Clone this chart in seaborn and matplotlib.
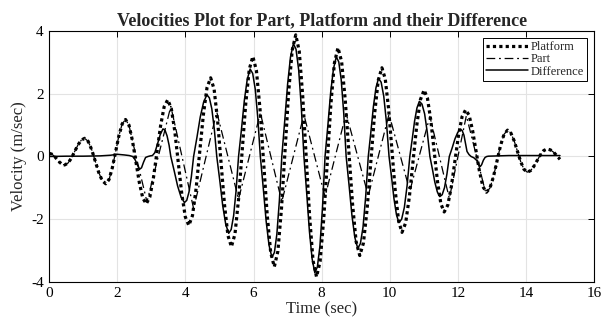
import matplotlib
matplotlib.use("Agg")
import matplotlib.pyplot as plt
import seaborn as sns
import pandas as pd

# ---- data ----
platform_t = [0.0, 0.075, 0.15, 0.225, 0.30, 0.375, 0.45, 0.548, 0.647, 0.745, 0.843, 0.942,
              1.04, 1.143, 1.247, 1.35, 1.453, 1.557, 1.66, 1.757, 1.853, 1.95, 2.047, 2.143,
              2.24, 2.342, 2.443, 2.545, 2.647, 2.748, 2.85, 2.955, 3.06, 3.165, 3.27, 3.375,
              3.48, 3.583, 3.687, 3.79, 3.893, 3.997, 4.10, 4.207, 4.313, 4.42, 4.527, 4.633,
              4.74, 4.842, 4.943, 5.045, 5.147, 5.248, 5.35, 5.455, 5.56, 5.665, 5.77, 5.875,
              5.98, 6.085, 6.19, 6.295, 6.40, 6.505, 6.61, 6.715, 6.82, 6.925, 7.03, 7.135,
              7.24, 7.342, 7.443, 7.545, 7.647, 7.748, 7.85, 7.955, 8.06, 8.165, 8.27, 8.375,
              8.48, 8.587, 8.693, 8.80, 8.907, 9.013, 9.12, 9.228, 9.337, 9.445, 9.553, 9.662,
              9.77, 9.868, 9.967, 10.065, 10.163, 10.262, 10.36, 10.468, 10.577, 10.685, 10.793, 10.902,
              11.01, 11.108, 11.207, 11.305, 11.403, 11.502, 11.60, 11.705, 11.81, 11.915, 12.02, 12.125,
              12.23, 12.332, 12.433, 12.535, 12.637, 12.738, 12.84, 12.943, 13.047, 13.15, 13.253, 13.357,
              13.46, 13.557, 13.653, 13.75, 13.847, 13.943, 14.04, 14.137, 14.233, 14.33, 14.427, 14.523,
              14.62, 14.72, 14.82, 14.91, 15.0]
platform_v = [0.10, 0.075, 0.01, -0.085, -0.18, -0.245, -0.27, -0.213, -0.058, 0.155, 0.368, 0.523,
              0.58, 0.483, 0.218, -0.145, -0.508, -0.773, -0.87, -0.733, -0.358, 0.155, 0.668, 1.043,
              1.18, 1.0, 0.508, -0.165, -0.838, -1.33, -1.51, -1.288, -0.68, 0.15, 0.98, 1.588,
              1.81, 1.541, 0.808, -0.195, -1.198, -1.931, -2.20, -1.884, -1.023, 0.155, 1.333, 2.194,
              2.51, 2.149, 1.163, -0.185, -1.533, -2.519, -2.88, -2.473, -1.363, 0.155, 1.673, 2.783,
              3.19, 2.74, 1.513, -0.165, -1.843, -3.07, -3.52, -3.024, -1.67, 0.18, 2.03, 3.384,
              3.88, 3.363, 1.95, 0.02, -1.91, -3.323, -3.84, -3.35, -2.013, -0.185, 1.643, 2.98,
              3.47, 3.026, 1.813, 0.155, -1.503, -2.716, -3.16, -2.759, -1.663, -0.165, 1.333, 2.429,
              2.83, 2.478, 1.518, 0.205, -1.108, -2.068, -2.42, -2.116, -1.285, -0.15, 0.985, 1.816,
              2.12, 1.859, 1.148, 0.175, -0.798, -1.509, -1.77, -1.552, -0.955, -0.14, 0.675, 1.272,
              1.49, 1.314, 0.833, 0.175, -0.483, -0.964, -1.14, -1.007, -0.645, -0.15, 0.345, 0.707,
              0.84, 0.75, 0.505, 0.17, -0.165, -0.41, -0.50, -0.45, -0.315, -0.13, 0.055, 0.19,
              0.24, 0.21, 0.13, 0.02, -0.09]

part_t = [0.0, 0.075, 0.15, 0.225, 0.30, 0.375, 0.45, 0.548, 0.647, 0.745, 0.843, 0.942,
          1.04, 1.143, 1.247, 1.35, 1.453, 1.557, 1.66, 1.757, 1.853, 1.95, 2.047, 2.143,
          2.24, 2.342, 2.45, 2.87, 3.57, 4.24, 4.92, 5.56, 6.20, 6.83, 7.48, 8.10, 8.72,
          9.37, 9.98, 10.59, 11.18, 11.75, 12.25, 12.80, 12.84, 12.943, 13.047, 13.15, 13.253,
          13.357, 13.46, 13.557, 13.653, 13.75, 13.847, 13.943, 14.04, 14.137, 14.233, 14.33,
          14.427, 14.523, 14.62, 14.72, 14.82, 14.91, 15.0]
part_v = [0.10, 0.075, 0.01, -0.085, -0.18, -0.245, -0.27, -0.213, -0.058, 0.155, 0.368, 0.523,
          0.58, 0.483, 0.218, -0.145, -0.508, -0.773, -0.87, -0.733, -0.358, 0.155, 0.668, 1.043,
          1.18, 1.0, 0.47, -1.45, 1.60, -1.66, 1.42, -1.36, 1.39, -1.44, 1.33, -1.28, 1.37,
          -1.25, 1.35, -1.10, 1.28, -1.34, 1.30, -1.08, -1.14, -1.007, -0.645, -0.15, 0.345,
          0.707, 0.84, 0.75, 0.505, 0.17, -0.165, -0.41, -0.50, -0.45, -0.315, -0.13,
          0.055, 0.19, 0.24, 0.21, 0.13, 0.02, -0.09]

diff_t = [0.0, 0.5, 1.0, 1.5, 1.8, 2.0, 2.2, 2.35, 2.45, 2.52, 2.58, 2.65, 2.71, 2.77, 2.83,
          2.90, 2.97, 3.03, 3.10, 3.18, 3.26, 3.34, 3.40, 3.46, 3.52, 3.57,
          3.67, 3.77, 3.87, 3.97, 4.038, 4.105, 4.173, 4.24,
          4.338, 4.435, 4.533, 4.63, 4.703, 4.775, 4.848, 4.92,
          5.008, 5.095, 5.183, 5.27, 5.343, 5.415, 5.488, 5.56,
          5.645, 5.73, 5.815, 5.90, 5.975, 6.05, 6.125, 6.20,
          6.285, 6.37, 6.455, 6.54, 6.613, 6.685, 6.758, 6.83,
          6.915, 7.00, 7.085, 7.17, 7.248, 7.325, 7.403, 7.48,
          7.56, 7.64, 7.72, 7.80, 7.875, 7.95, 8.025, 8.10,
          8.183, 8.265, 8.348, 8.43, 8.503, 8.575, 8.648, 8.72,
          8.805, 8.89, 8.975, 9.06, 9.138, 9.215, 9.293, 9.37,
          9.445, 9.52, 9.595, 9.67, 9.748, 9.825, 9.903, 9.98,
          10.053, 10.125, 10.198, 10.27, 10.35, 10.43, 10.51, 10.59,
          10.66, 10.73, 10.80, 10.87, 10.948, 11.025, 11.103, 11.18,
          11.253, 11.325, 11.398, 11.47, 11.54, 11.61, 11.68, 11.75,
          11.833, 11.915, 11.998, 12.08, 12.13, 12.18, 12.23, 12.27,
          12.33, 12.39, 12.47, 12.55, 12.62, 12.66, 12.70, 12.75, 12.80, 12.85,
          12.9, 13.5, 14.5, 15.0]
diff_v = [0.0, 0.01, 0.01, 0.02, 0.04, 0.07, 0.05, 0.03, 0.0, -0.10, -0.25, -0.41, -0.36, -0.18, -0.03,
          0.0, 0.02, 0.03, 0.12, 0.40, 0.70, 0.88, 0.84, 0.66, 0.36, 0.0,
          -0.46, -0.94, -1.29, -1.47, -1.40, -1.13, -0.65, 0.0,
          0.61, 1.26, 1.73, 1.97, 1.87, 1.52, 0.87, 0.0,
          -0.76, -1.57, -2.16, -2.45, -2.33, -1.89, -1.08, 0.0,
          0.86, 1.79, 2.46, 2.79, 2.65, 2.15, 1.23, 0.0,
          -1.00, -2.06, -2.83, -3.22, -3.06, -2.48, -1.42, 0.0,
          1.12, 2.30, 3.17, 3.60, 3.42, 2.77, 1.58, 0.0,
          -1.15, -2.37, -3.26, -3.71, -3.52, -2.86, -1.63, 0.0,
          0.99, 2.04, 2.80, 3.18, 3.02, 2.45, 1.40, 0.0,
          -0.91, -1.88, -2.58, -2.93, -2.78, -2.26, -1.29, 0.0,
          0.77, 1.59, 2.19, 2.49, 2.37, 1.92, 1.10, 0.0,
          -0.65, -1.35, -1.86, -2.11, -2.00, -1.62, -0.93, 0.0,
          0.55, 1.13, 1.55, 1.76, 1.67, 1.36, 0.77, 0.0,
          -0.40, -0.82, -1.13, -1.28, -1.22, -0.99, -0.56, 0.0,
          0.27, 0.56, 0.77, 0.87, 0.82, 0.68, 0.40, 0.16,
          0.06, 0.0, -0.04, -0.12, -0.27, -0.32, -0.26, -0.12, -0.03, 0.0,
          0.01, 0.03, 0.03, 0.03]

x_ticks = [0, 2, 4, 6, 8, 10, 12, 14, 16]
y_ticks = [-4, -2, 0, 2, 4]
title = "Velocities Plot for Part, Platform and their Difference"
x_label = "Time (sec)"
y_label = "Velocity (m/sec)"

# ---- styling ----
sns.set_theme(style="white")
serif = ["Liberation Serif", "DejaVu Serif"]
plt.rcParams["font.family"] = serif
plt.rcParams["xtick.direction"] = "in"
plt.rcParams["ytick.direction"] = "in"

fig = plt.figure(figsize=(6.08, 3.24), dpi=100)
ax = fig.add_axes([0.081, 0.13, 0.896, 0.774])

df_plat = pd.DataFrame({"t": platform_t, "v": platform_v})
df_part = pd.DataFrame({"t": part_t, "v": part_v})
df_diff = pd.DataFrame({"t": diff_t, "v": diff_v})

sns.lineplot(data=df_plat, x="t", y="v", ax=ax, color="black", linewidth=2.3,
             linestyle=(0, (1, 1)), label="Platform", estimator=None, sort=False)
sns.lineplot(data=df_part, x="t", y="v", ax=ax, color="black", linewidth=0.9,
             linestyle=(0, (7, 3, 1.5, 3)), label="Part", estimator=None, sort=False)
sns.lineplot(data=df_diff, x="t", y="v", ax=ax, color="black", linewidth=1.1,
             linestyle="-", label="Difference", estimator=None, sort=False)

ax.set_xlim(0, 16)
ax.set_ylim(-4, 4)
ax.set_xticks(x_ticks)
ax.set_yticks(y_ticks)
ax.set_xticklabels([str(v) for v in x_ticks])
ax.set_yticklabels([str(v) for v in y_ticks])
ax.grid(True, color="#e3e3e3", linewidth=0.8)
ax.set_axisbelow(True)
ax.tick_params(axis="both", which="both", direction="in", length=4, width=0.7,
               top=True, right=True, labelsize=11, colors="black", pad=4)
for s in ax.spines.values():
    s.set_visible(True)
    s.set_color("black")
    s.set_linewidth(0.8)

ax.set_title(title, fontsize=13, fontweight="bold", family=serif, pad=4)
ax.set_xlabel(x_label, fontsize=12, family=serif, labelpad=1)
ax.set_ylabel(y_label, fontsize=12, family=serif, labelpad=3)

leg = ax.legend(loc="upper right", fontsize=9, frameon=True, fancybox=False,
                edgecolor="black", framealpha=1, borderpad=0.25, handlelength=3.3,
                handletextpad=0.25, labelspacing=0.02, borderaxespad=0.55)
leg.get_frame().set_linewidth(0.7)

fig.savefig("out.png", dpi=100)
